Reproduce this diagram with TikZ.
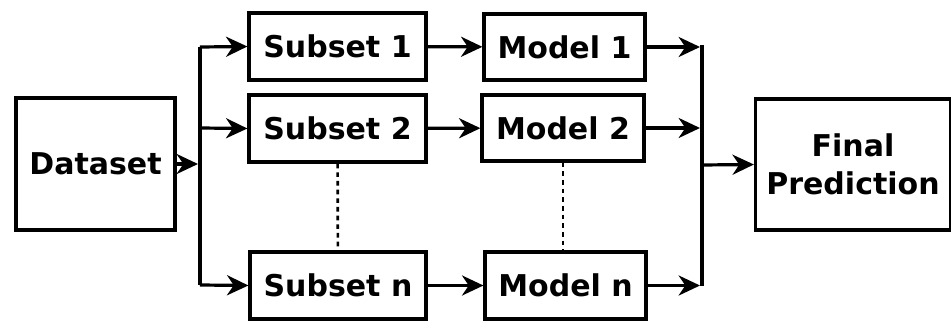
\documentclass[tikz,border=0pt]{standalone}
\usepackage{fontspec}
\setmainfont{DejaVu Sans}
\usetikzlibrary{arrows.meta}
\begin{document}
\begin{tikzpicture}[x=0.75pt,y=-0.75pt,
    box/.style={draw,line width=2.4pt,font=\fontsize{22.5}{28.5}\selectfont\bfseries,align=center,inner sep=0pt},
    conn/.style={line width=2.4pt,-{Stealth[length=16pt,width=15pt,inset=5pt]}},
    trunk/.style={line width=2.4pt},
    gap/.style={line width=2pt,dash pattern=on 3.5pt off 3pt}]
        \useasboundingbox (0,0) rectangle (951,321);
        % input and splits
        \node[box,minimum width=159*0.75pt,minimum height=132*0.75pt] (data) at (95.5,164) {Dataset};
        \node[box,minimum width=177*0.75pt,minimum height=67*0.75pt] (sub1) at (337.5,46.5) {Subset 1};
        \node[box,minimum width=177*0.75pt,minimum height=67*0.75pt] (sub2) at (337.5,128.5) {Subset 2};
        \node[box,minimum width=176*0.75pt,minimum height=67*0.75pt] (subn) at (338,285.5) {Subset n};
        % models
        \node[box,minimum width=161*0.75pt,minimum height=66*0.75pt] (mod1) at (564.5,47) {Model 1};
        \node[box,minimum width=162*0.75pt,minimum height=66*0.75pt] (mod2) at (563,128) {Model 2};
        \node[box,minimum width=161*0.75pt,minimum height=67*0.75pt] (modn) at (565.5,285.5) {Model n};
        \node[box,minimum width=195*0.75pt,minimum height=131*0.75pt] (final) at (853,164.5) {Final\\Prediction};
        % branch points
        \coordinate (split) at (198,164);
        \coordinate (st) at (200,47);
        \coordinate (sm) at (200,128);
        \coordinate (sb) at (200,285);
        \coordinate (mt) at (702,45);
        \coordinate (mm) at (702,165);
        \coordinate (mb) at (702,286);
        \draw[trunk] (st) -- (sb);
        \draw[trunk] (mt) -- (mb);
        \draw[conn] (data.east) -- (split);
        \draw[conn] (st) -- (sub1.west);
        \draw[conn] (sm) -- (sub2.west);
        \draw[conn] (sb) -- (subn.west);
        \draw[conn] (sub1) -- (mod1);
        \draw[conn] (sub2) -- (mod2);
        \draw[conn] (subn) -- (modn);
        \draw[conn] (mod1.east) -- (700,47);
        \draw[conn] (mod2.east) -- (700,128);
        \draw[conn] (modn.east) -- (700,285.5);
        \draw[conn] (mm) -- (final.west);
        % omitted subsets
        \draw[gap] (sub2) -- (subn);
        \draw[gap] (mod2) -- (mod2 |- modn.north);
\end{tikzpicture}
\end{document}
